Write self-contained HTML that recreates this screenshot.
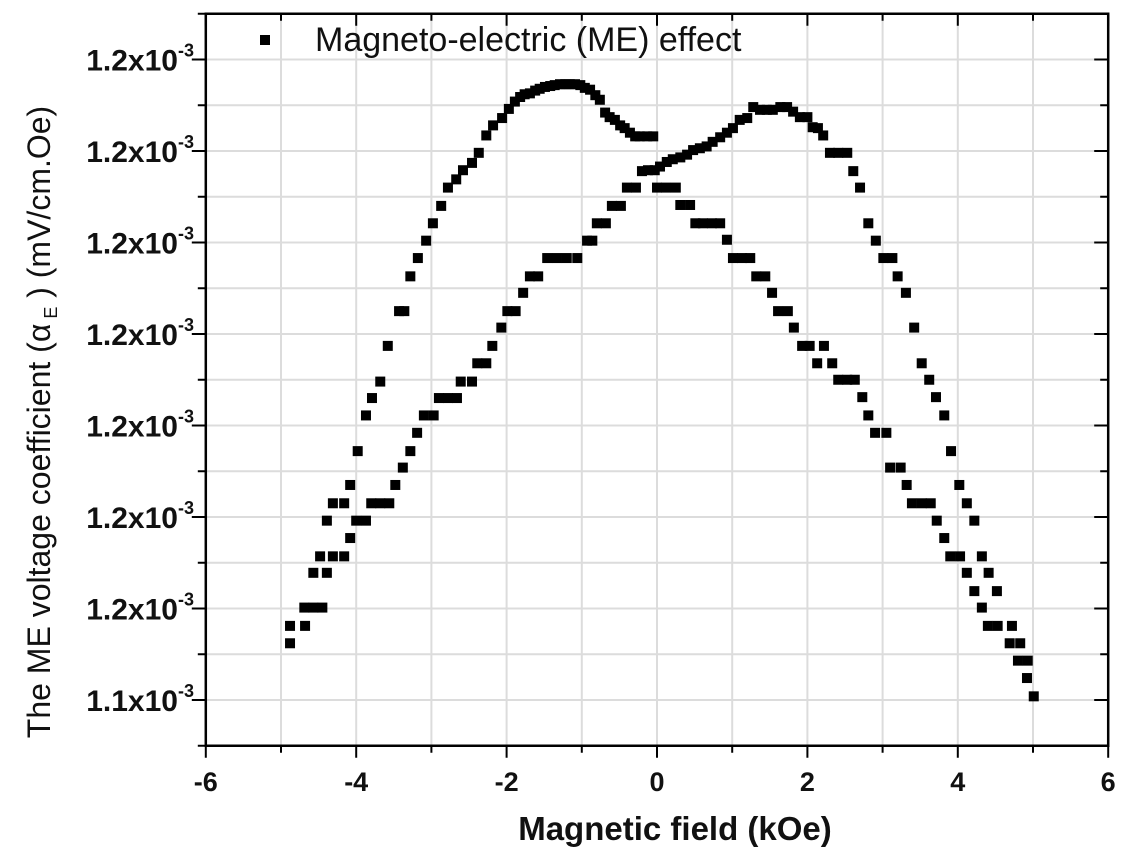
<!DOCTYPE html>
<html><head><meta charset="utf-8"><style>
html,body{margin:0;padding:0;background:#fff;}
svg text{font-family:"Liberation Sans",Arial,sans-serif;fill:#111;}
</style></head><body>
<svg id="chart" width="1127" height="852" viewBox="0 0 1127 852" xmlns="http://www.w3.org/2000/svg">
<g id="grid"></g>
<g id="marks"></g>
<g id="axes"></g>
<g>
<rect x="260" y="35" width="10" height="10" fill="#000"/>
<text x="315" y="51" font-size="34">Magneto-electric (ME) effect</text>
</g>
<text x="675" y="840" font-size="33" font-weight="bold" text-anchor="middle">Magnetic field (kOe)</text>
<text transform="translate(50,422) rotate(-90)" font-size="32" text-anchor="middle">The ME voltage coefficient (α<tspan font-size="18" dy="7"> E</tspan><tspan dy="-7"> ) (mV/cm.Oe)</tspan></text>
</svg>
<script>
const xVals=[-4.88,-4.88,-4.68,-4.69,-4.57,-4.45,-4.57,-4.39,-4.48,-4.31,-4.16,-4.08,-4.39,-4.00,-3.87,-4.31,-4.16,-3.80,-3.68,-3.56,-4.08,-3.48,-3.38,-3.98,-3.28,-3.19,-3.87,-3.10,-2.97,-3.79,-2.90,-2.78,-2.66,-3.68,-2.61,-2.46,-3.58,-3.43,-3.36,-3.28,-3.18,-3.07,-2.98,-2.87,-2.78,-2.67,-2.58,-2.46,-2.37,-2.27,-2.18,-2.06,-1.97,-1.89,-1.82,-1.76,-1.69,-1.62,-1.56,-1.49,-1.42,-1.36,-1.29,-1.22,-1.16,-1.09,-1.02,-0.96,-0.89,-0.82,-0.76,-0.69,-0.63,-0.56,-0.49,-0.43,-0.36,-0.29,-0.23,-0.13,-0.05,
-0.93,-0.86,-1.46,-1.33,-1.20,-1.06,-1.69,-1.58,-1.78,-1.99,-1.88,-2.07,-2.19,-2.39,-2.27,-0.80,-0.68,-0.60,-0.48,-0.40,-0.28,-0.20,-0.12,-0.03,
0.04,0.13,0.21,0.31,0.40,0.48,0.57,0.66,0.74,0.84,0.93,1.01,1.10,1.20,1.28,1.37,1.46,1.54,1.64,1.73,1.81,1.90,2.00,2.07,2.14,2.21,2.30,2.41,2.53,2.61,2.70,2.81,2.91,3.01,3.13,3.20,3.31,3.42,3.52,3.62,3.71,3.82,3.91,4.02,4.12,4.22,4.32,4.41,4.52,4.72,4.83,4.93,5.01,
0.00,0.12,0.25,0.31,0.44,0.51,0.61,0.73,0.84,0.93,1.01,1.13,1.24,1.32,1.44,1.53,1.61,1.74,1.82,1.93,2.03,2.22,2.13,2.33,2.41,2.53,2.63,2.73,2.81,2.90,3.05,3.10,3.24,3.32,3.39,3.52,3.64,3.72,3.82,3.90,4.03,4.12,4.22,4.32,4.40,4.53,4.69,4.80,4.92];
// y values in units of 1e-6 mV/cm.Oe
const yVals=[1146.2,1148.1,1148.1,1150.1,1150.1,1150.1,1153.9,1153.9,1155.7,1155.7,1155.7,1157.7,1159.6,1159.6,1159.6,1161.5,1161.5,1161.5,1161.5,1161.5,1163.5,1163.5,1165.4,1167.2,1167.2,1169.2,1171.1,1171.1,1171.1,1173.0,1173.0,1173.0,1173.0,1174.8,1174.8,1174.8,1178.7,1182.5,1182.5,1186.3,1188.3,1190.2,1192.1,1194.0,1196.0,1196.9,1197.9,1198.7,1199.8,1201.7,1202.8,1203.6,1204.6,1205.4,1205.9,1206.2,1206.3,1206.6,1206.8,1207.0,1207.1,1207.2,1207.3,1207.3,1207.3,1207.3,1207.2,1206.9,1206.7,1206.1,1205.6,1204.2,1203.7,1203.4,1202.8,1202.5,1202.0,1201.6,1201.6,1201.6,1201.6,
1190.2,1190.2,1188.3,1188.3,1188.3,1188.3,1186.3,1186.3,1184.5,1182.5,1182.5,1180.7,1178.7,1176.8,1176.8,1192.1,1192.1,1194.0,1194.0,1196.0,1196.0,1197.8,1197.9,1197.9,
1198.3,1198.8,1199.1,1199.3,1199.6,1200.1,1200.3,1200.5,1201.0,1201.5,1202.0,1202.5,1203.4,1203.6,1204.8,1204.5,1204.5,1204.5,1204.8,1204.8,1204.3,1203.7,1203.7,1202.6,1202.5,1201.7,1199.8,1199.8,1199.8,1197.8,1196.0,1192.1,1190.2,1188.3,1188.3,1186.3,1184.5,1180.7,1176.8,1175.0,1173.1,1171.1,1167.2,1163.5,1161.5,1159.6,1155.7,1153.9,1151.9,1148.1,1146.2,1144.3,1140.4,
1196.0,1196.0,1196.0,1194.1,1194.1,1192.1,1192.1,1192.1,1192.1,1190.3,1188.3,1188.3,1188.3,1186.3,1186.3,1184.5,1182.5,1182.5,1180.7,1178.7,1178.7,1178.7,1176.8,1176.8,1175.0,1175.0,1175.0,1173.1,1171.1,1169.2,1169.2,1165.4,1165.4,1163.5,1161.5,1161.5,1161.5,1159.6,1157.7,1155.7,1155.7,1153.9,1151.9,1150.1,1148.1,1148.1,1146.2,1144.3,1142.4];
const xTicks=[-6,-4,-2,0,2,4,6];
const xTickLabels=["-6","-4","-2","0","2","4","6"];
const yTicks=[1140,1150,1160,1170,1180,1190,1200,1210];
const yTickLabels=["1.1x10","1.2x10","1.2x10","1.2x10","1.2x10","1.2x10","1.2x10","1.2x10"];

const X0=205.8,X1=1108.2,XMIN=-6,XMAX=6;
const Y0=745.75,Y1=13.75,YMIN=1135,YMAX=1215;
function sx(v){return X0+(v-XMIN)/(XMAX-XMIN)*(X1-X0);}
function sy(v){return Y0+(v-YMIN)/(YMAX-YMIN)*(Y1-Y0);}
const NS="http://www.w3.org/2000/svg";
function mk(tag,attrs,parent){const e=document.createElementNS(NS,tag);for(const k in attrs)e.setAttribute(k,attrs[k]);parent.appendChild(e);return e;}
const grid=document.getElementById('grid'),marks=document.getElementById('marks'),axes=document.getElementById('axes');
for(let v=XMIN;v<=XMAX;v+=1){
  const l=mk('line',{x1:sx(v),x2:sx(v),y1:Y1,y2:Y0,stroke:'#dcdcdc','stroke-width':2},grid);
  
  
  const major=(v%2===0);
  const len=major?12:7;
  const tb=mk('line',{x1:sx(v),x2:sx(v),y1:Y0,y2:Y0+len,stroke:'#000','stroke-width':2},axes);
  
  
  const tt=mk('line',{x1:sx(v),x2:sx(v),y1:Y1,y2:Y1+len,stroke:'#000','stroke-width':2},axes);
  
  
}
for(let v=YMIN;v<=YMAX;v+=5){
  const l=mk('line',{x1:X0,x2:X1,y1:sy(v),y2:sy(v),stroke:'#dcdcdc','stroke-width':2},grid);
  
  
  const major=(v%10===0);
  const len=major?14:8;
  const tl=mk('line',{x1:X0-len,x2:X0,y1:sy(v),y2:sy(v),stroke:'#000','stroke-width':2},axes);
  
  
  const tr=mk('line',{x1:X1-len,x2:X1,y1:sy(v),y2:sy(v),stroke:'#000','stroke-width':2},axes);
  
  
}
const frame=mk('rect',{x:X0,y:Y1,width:X1-X0,height:Y0-Y1,fill:'none',stroke:'#000','stroke-width':2.5},axes);


xTicks.forEach((v,i)=>{
  const t=mk('text',{x:sx(v),y:791,'font-size':27,'font-weight':'bold','text-anchor':'middle'},axes);
  t.textContent=xTickLabels[i];
  
  
});
yTicks.forEach((v,i)=>{
  const t=mk('text',{x:194,y:sy(v)+11,'font-size':30,'font-weight':'bold','text-anchor':'end'},axes);
  t.textContent=yTickLabels[i];
  const s=document.createElementNS(NS,'tspan');
  s.setAttribute('font-size','18');s.setAttribute('dy','-14');s.textContent='-3';
  t.appendChild(s);
  
  
});
xVals.forEach((xv,i)=>{
  const r=mk('rect',{x:sx(xv)-5,y:sy(yVals[i])-5,width:10,height:10,fill:'#000'},marks);
  
  
});
</script>
</body></html>
